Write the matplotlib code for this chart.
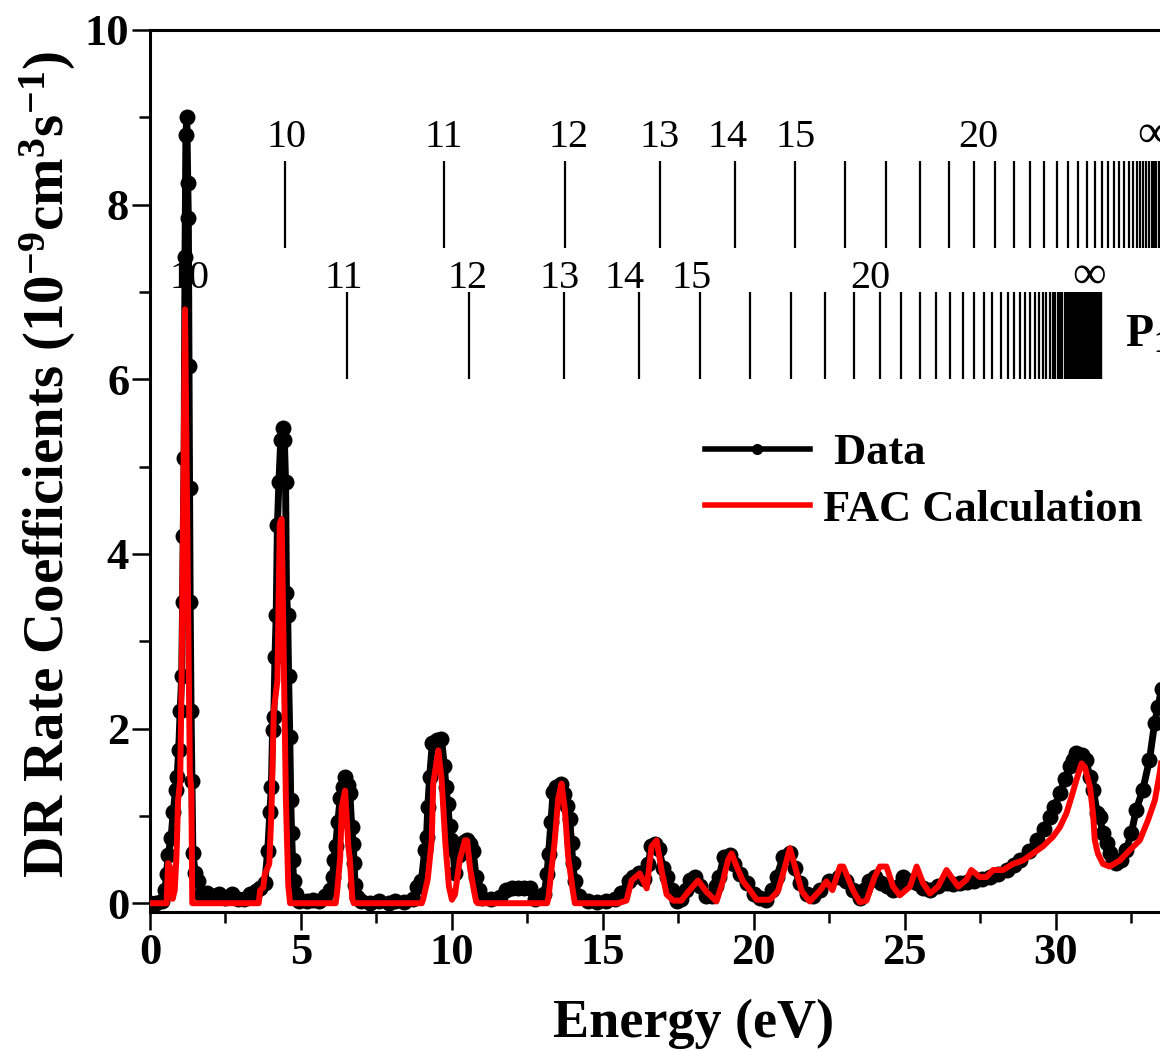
import matplotlib
matplotlib.use('Agg')
import matplotlib.pyplot as plt
from matplotlib.lines import Line2D
from matplotlib.ticker import MultipleLocator

plt.rcParams['font.family'] = 'Liberation Serif'
plt.rcParams['mathtext.default'] = 'regular'

# Measured DR rate coefficients (10^-9 cm^3 s^-1)
data_energy = [0.0, 0.2, 0.4, 0.5, 0.55, 0.6, 0.7, 0.77, 0.85, 0.9, 0.95, 1.0, 1.05, 1.08,
               1.1, 1.13, 1.16, 1.19, 1.22, 1.25, 1.27, 1.29, 1.31, 1.33, 1.36, 1.39, 1.42,
               1.5, 1.58, 1.7, 1.9, 2.1, 2.3, 2.5, 2.7, 2.9, 3.1, 3.3, 3.5, 3.65, 3.8, 3.9,
               3.97, 4.02, 4.06, 4.1, 4.14, 4.18, 4.22, 4.27, 4.33, 4.39, 4.45, 4.49, 4.52,
               4.56, 4.59, 4.63, 4.66, 4.69, 4.72, 4.76, 4.82, 4.95, 5.2, 5.4, 5.6, 5.8, 5.95,
               6.05, 6.1, 6.15, 6.22, 6.3, 6.4, 6.46, 6.55, 6.62, 6.68, 6.73, 6.76, 6.79, 6.85,
               7.0, 7.3, 7.6, 7.9, 8.1, 8.4, 8.7, 8.85, 8.99, 9.1, 9.16, 9.2, 9.26, 9.35, 9.5,
               9.65, 9.75, 9.8, 9.86, 9.92, 9.98, 10.03, 10.1, 10.25, 10.4, 10.5, 10.6, 10.7,
               10.8, 10.9, 11.0, 11.3, 11.6, 11.8, 12.0, 12.2, 12.4, 12.6, 12.75, 12.95, 13.05,
               13.15, 13.2, 13.28, 13.35, 13.45, 13.6, 13.72, 13.8, 13.9, 13.96, 14.0, 14.07,
               14.2, 14.5, 14.8, 15.1, 15.4, 15.6, 15.85, 16.0, 16.2, 16.35, 16.5, 16.6, 16.72,
               16.85, 17.0, 17.11, 17.3, 17.44, 17.6, 17.75, 17.9, 18.05, 18.2, 18.4, 18.6,
               18.75, 18.85, 19.0, 19.2, 19.35, 19.54, 19.76, 20.0, 20.2, 20.4, 20.6, 20.75,
               20.97, 21.19, 21.35, 21.52, 21.75, 21.96, 22.18, 22.5, 22.83, 23.05, 23.27, 23.5,
               23.65, 23.8, 24.0, 24.2, 24.4, 24.6, 24.8, 24.95, 25.2, 25.4, 25.6, 25.84, 26.1,
               26.4, 26.6, 26.83, 27.05, 27.28, 27.55, 27.83, 28.1, 28.38, 28.6, 28.82, 29.1,
               29.37, 29.6, 29.8, 29.95, 30.13, 30.3, 30.46, 30.57, 30.68, 30.85, 31.0, 31.12,
               31.24, 31.37, 31.46, 31.55, 31.68, 31.8, 31.9, 32.0, 32.15, 32.33, 32.5, 32.66,
               32.88, 33.1, 33.27, 33.38, 33.5, 33.7]
data_rate = [0.0, 0.0, 0.02, 0.15, 0.34, 0.55, 0.75, 1.05, 1.3, 1.45, 1.75, 2.2, 2.6, 3.45,
             4.2, 5.1, 7.4, 8.8, 9.0, 8.25, 7.85, 6.15, 4.75, 3.45, 2.2, 1.4, 0.57,
             0.35, 0.26, 0.1, 0.12, 0.08, 0.1, 0.06, 0.1, 0.05, 0.05, 0.1, 0.14, 0.18, 0.23, 0.6,
             1.04, 1.33, 1.98, 2.13, 2.82, 3.3, 4.33, 4.82, 5.3, 5.44, 5.3, 4.82, 3.55,
             3.3, 2.6, 1.9, 1.18, 0.8, 0.49, 0.26, 0.1, 0.03, 0.02, 0.04, 0.02, 0.08, 0.15,
             0.3, 0.5, 0.66, 0.93, 1.2, 1.33, 1.44, 1.35, 1.26, 0.87, 0.68, 0.46, 0.21, 0.07,
             0.02, 0.0, 0.02, 0.0, 0.03, 0.01, 0.05, 0.19, 0.26, 0.61, 0.76, 1.1, 1.44, 1.83, 1.87,
             1.88, 1.57, 1.33, 1.14, 0.88, 0.72, 0.61, 0.35, 0.55, 0.7, 0.72, 0.68, 0.6,
             0.3, 0.15, 0.06, 0.05, 0.07, 0.15, 0.18, 0.17, 0.18, 0.17, 0.05, 0.08, 0.1,
             0.33, 0.56, 0.93, 1.27, 1.33, 1.37, 1.25, 1.11, 0.96, 0.69, 0.46, 0.25,
             0.08, 0.02, 0.01, 0.02, 0.05, 0.12, 0.25, 0.3, 0.35, 0.28, 0.45, 0.65, 0.68,
             0.62, 0.4, 0.3, 0.15, 0.03, 0.05, 0.15, 0.27, 0.3, 0.2, 0.08, 0.08,
             0.2, 0.3, 0.53, 0.55, 0.45, 0.34, 0.23, 0.11, 0.06, 0.04, 0.15, 0.3,
             0.53, 0.57, 0.4, 0.23, 0.11, 0.08, 0.15, 0.26, 0.3, 0.25, 0.15, 0.06,
             0.15, 0.26, 0.3, 0.23, 0.2, 0.15, 0.2, 0.3, 0.26, 0.23, 0.18, 0.15, 0.2,
             0.23, 0.22, 0.23, 0.24, 0.26, 0.28, 0.3, 0.34, 0.38, 0.44, 0.49, 0.6,
             0.72, 0.85, 0.99, 1.1, 1.26, 1.42, 1.57, 1.64, 1.72, 1.7, 1.64, 1.45,
             1.3, 1.03, 0.99, 0.8, 0.69, 0.58, 0.5, 0.46, 0.5, 0.61, 0.8, 1.07,
             1.3, 1.64, 2.06, 2.25, 2.45, 2.8]

# FAC calculation
fac_energy = [0.0, 0.55, 0.6, 0.68, 0.75, 0.82, 0.88, 0.93, 1.0, 1.05, 1.16, 1.32, 1.37, 1.4,
              3.6, 3.65, 3.75, 3.8, 3.95, 4.02, 4.1, 4.22, 4.3, 4.36, 4.42, 4.5, 4.58, 4.64,
              6.15, 6.2, 6.3, 6.35, 6.46, 6.57, 6.62, 6.7, 6.75,
              9.0, 9.05, 9.2, 9.33, 9.38, 9.55, 9.66, 9.78, 9.9, 10.0, 10.1, 10.26, 10.43,
              10.5, 10.6, 10.7, 10.8, 10.85,
              13.15, 13.2, 13.3, 13.4, 13.52, 13.63, 13.74, 13.85, 14.0, 14.07,
              15.5, 15.78, 15.95, 16.22, 16.45, 16.61, 16.78, 16.94, 17.11, 17.33, 17.6, 17.82,
              18.15, 18.43, 18.76, 18.98, 19.14, 19.26, 19.43, 19.64, 19.87, 20.09, 20.53, 20.8,
              21.03, 21.19, 21.36, 21.58, 21.85, 22.2, 22.4, 22.6, 22.85, 22.96, 23.28, 23.51,
              23.73, 24.0, 24.17, 24.39, 24.61, 24.83, 25.17, 25.39, 25.6, 25.83, 26.1, 26.38,
              26.6, 26.77, 27.04, 27.2, 27.48, 27.7, 27.92, 28.25, 28.58, 28.91, 29.24, 29.57,
              29.9, 30.13, 30.35, 30.52, 30.68, 30.85, 30.96, 31.13, 31.23, 31.29, 31.39, 31.56,
              31.78, 32.12, 32.45, 32.78, 33.05, 33.28, 33.44, 33.6]
fac_rate = [0.0, 0.0, 0.46, 0.4, 0.05, 0.15, 0.57, 1.18, 1.4, 2.63, 6.8, 1.49, 1.3, 0.0,
            0.0, 0.15, 0.18, 0.33, 0.45, 1.03, 2.2, 2.55, 4.35, 4.4, 3.0, 1.2, 0.2, 0.0,
            0.0, 0.14, 0.53, 1.1, 1.29, 0.65, 0.5, 0.05, 0.0,
            0.0, 0.05, 0.28, 0.72, 1.37, 1.75, 1.41, 0.7, 0.19, 0.04, 0.1, 0.5, 0.72,
            0.72, 0.4, 0.2, 0.02, 0.0,
            0.0, 0.07, 0.4, 0.7, 1.2, 1.37, 1.07, 0.53, 0.15, 0.0,
            0.0, 0.03, 0.26, 0.34, 0.17, 0.65, 0.72, 0.38, 0.1, 0.03, 0.03, 0.13,
            0.26, 0.13, 0.02, 0.26, 0.49, 0.57, 0.42, 0.25, 0.15, 0.04, 0.04, 0.14,
            0.42, 0.63, 0.42, 0.14, 0.02, 0.15, 0.25, 0.15, 0.42, 0.42, 0.15, 0.01,
            0.03, 0.3, 0.42, 0.42, 0.19, 0.09, 0.19, 0.42, 0.23, 0.11, 0.19, 0.38,
            0.27, 0.19, 0.27, 0.38, 0.3, 0.3, 0.38, 0.38, 0.45, 0.49, 0.57, 0.65,
            0.76, 0.87, 1.03, 1.22, 1.41, 1.6, 1.56, 1.33, 1.03, 0.72, 0.57, 0.45,
            0.42, 0.49, 0.61, 0.72, 0.95, 1.18, 1.49, 1.9]

# Rydberg resonance positions (eV), n = 10, 11, ... for the two series
upper_series = [4.46, 9.74, 13.76, 16.89, 19.37, 21.37, 23.01, 24.37, 25.51, 26.47, 27.29,
                28.00, 28.61, 29.15, 29.62, 30.03, 30.40, 30.72, 31.02, 31.28, 31.52, 31.73,
                31.93, 32.10, 32.27, 32.42, 32.55, 32.68, 32.79, 32.90, 33.00, 33.09, 33.17,
                33.25, 33.33, 33.40, 33.46, 33.52, 33.58, 33.63, 33.68, 33.73, 33.77, 33.82,
                33.86, 33.89]
lower_series = [1.24, 6.54, 10.58, 13.72, 16.21, 18.22, 19.86, 21.23, 22.37, 23.33, 24.16,
                24.87, 25.49, 26.02, 26.49, 26.91, 27.28, 27.61, 27.90, 28.17, 28.40, 28.62,
                28.82, 28.99, 29.16, 29.31, 29.44, 29.57, 29.68, 29.79, 29.89, 29.98, 30.07,
                30.15, 30.22, 30.29, 30.36, 30.42, 30.47, 30.53, 30.58, 30.63, 30.67, 30.71,
                30.75, 30.79, 30.83, 30.86, 30.89, 30.92, 30.95, 31.00, 31.05, 31.10, 31.14,
                31.18, 31.21, 31.24, 31.27, 31.30, 31.32, 31.35, 31.37, 31.39, 31.41, 31.42,
                31.44, 31.45, 31.47, 31.48, 31.49]

series_labels = ['10', '11', '12', '13', '14', '15', '20', '\u221e']
upper_label_pos = [4.53, 9.74, 13.87, 16.89, 19.14, 21.39, 27.42, 33.25]
lower_label_pos = [1.32, 6.42, 10.53, 13.58, 15.73, 17.94, 23.84, 31.1]

fig = plt.figure(figsize=(11.6, 10.51), dpi=100)
ax = fig.add_axes([0.1293, 0.1323, 0.9371, 0.8392])

ax.plot(data_energy, data_rate, color='black', lw=5, marker='o', ms=11.5,
        markeredgewidth=0, zorder=2)
ax.plot(fac_energy, fac_rate, color='red', lw=4.3, zorder=3)

# series markers
ax.vlines(upper_series, 7.5, 8.5, color='black', lw=1.6, zorder=1)
ax.vlines(lower_series, 6.0, 7.0, color='black', lw=1.6, zorder=1)
for lab, e in zip(series_labels, upper_label_pos):
    size = 34 if lab == '\u221e' else 29
    ax.text(e, 8.66, lab, ha='center', va='baseline', fontsize=size)
for lab, e in zip(series_labels, lower_label_pos):
    size = 34 if lab == '\u221e' else 29
    ax.text(e, 7.05, lab, ha='center', va='baseline', fontsize=size)
ax.text(32.29, 6.37, 'P$_{1/2}$', ha='left', va='baseline', fontsize=33,
        fontweight='bold')

ax.set_xlim(0, 36)
ax.set_ylim(-0.1, 10)
ax.xaxis.set_major_locator(MultipleLocator(5))
ax.xaxis.set_minor_locator(MultipleLocator(2.5))
ax.yaxis.set_major_locator(MultipleLocator(2))
ax.yaxis.set_minor_locator(MultipleLocator(1))
ax.tick_params(which='major', direction='out', length=13, width=1.8, pad=2,
               labelsize=32, top=False, right=False)
ax.tick_params(which='minor', direction='out', length=8, width=1.8,
               top=False, right=False)
for lbl in ax.get_xticklabels() + ax.get_yticklabels():
    lbl.set_fontweight('bold')
for side in ['left', 'bottom', 'top', 'right']:
    ax.spines[side].set_linewidth(2.2)

ax.set_xlabel('Energy (eV)', fontsize=39, fontweight='bold')
ax.set_ylabel('DR Rate Coefficients (10$^{-9}$cm$^{3}$s$^{-1}$)', fontsize=41,
              fontweight='bold')
ax.xaxis.set_label_coords(0.5, -0.098)
ax.yaxis.set_label_coords(-0.066, 0.507)

handles = [Line2D([], [], color='black', lw=4, marker='o', ms=8, markeredgewidth=0),
           Line2D([], [], color='red', lw=4)]
ax.legend(handles, [' Data', 'FAC Calculation'], loc='upper left',
          bbox_to_anchor=(0.6078, 0.588), bbox_transform=fig.transFigure,
          frameon=False, borderpad=0, borderaxespad=0, handlelength=2.36,
          handletextpad=0.3, labelspacing=0.37, numpoints=1,
          prop={'family': 'Liberation Serif', 'weight': 'bold', 'size': 32})

fig.savefig('out.png', dpi=100)
